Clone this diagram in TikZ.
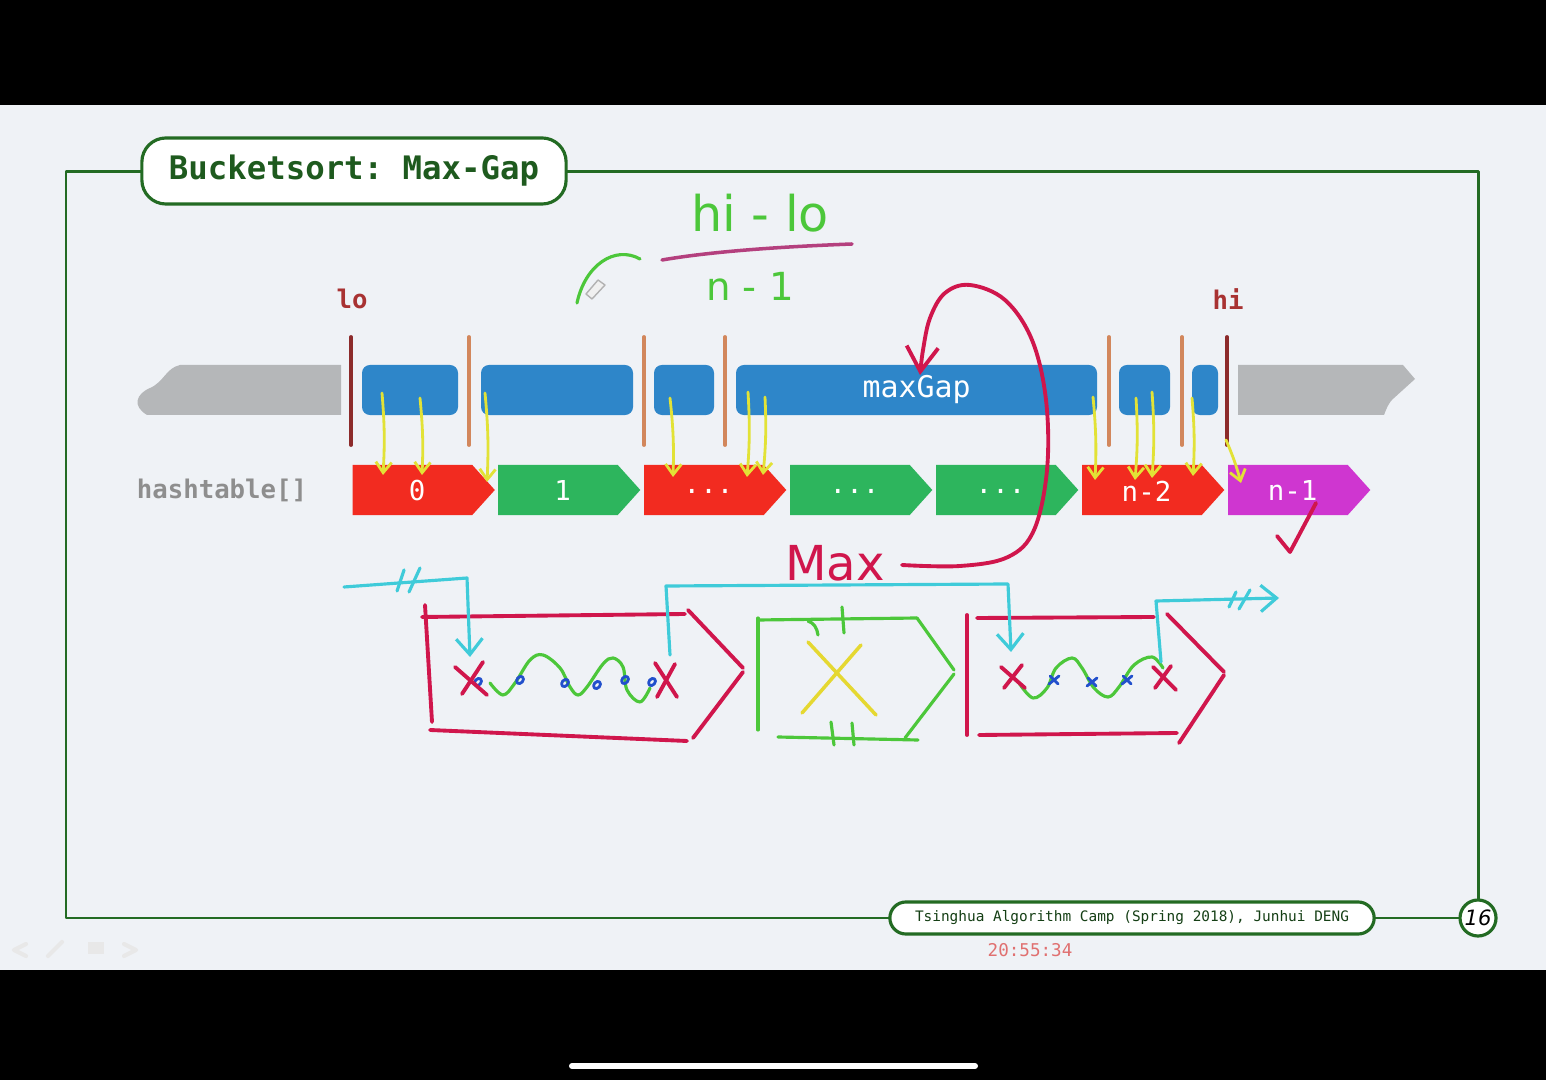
\documentclass[tikz,border=0pt]{standalone}
\usepackage{fontspec}
\setmainfont{DejaVu Sans}
\setmonofont{DejaVu Sans Mono}
\usetikzlibrary{arrows.meta,shapes.symbols,positioning}

\definecolor{slidebg}{HTML}{EFF2F6}
\definecolor{framegreen}{HTML}{236B23}
\definecolor{titlegreen}{HTML}{1E5A1E}
\definecolor{graybar}{HTML}{B5B7B9}
\definecolor{blueblock}{HTML}{2E86C9}
\definecolor{orangeline}{HTML}{D2875C}
\definecolor{loline}{HTML}{8C2B2B}
\definecolor{lotext}{HTML}{A83232}
\definecolor{slotred}{HTML}{F22B20}
\definecolor{slotgreen}{HTML}{2DB55D}
\definecolor{slotmag}{HTML}{CF36D0}
\definecolor{penyellow}{HTML}{E2E236}
\definecolor{pencrim}{HTML}{D0164C}
\definecolor{pencyan}{HTML}{3FCBD9}
\definecolor{pengreen}{HTML}{4CC73A}
\definecolor{penblue}{HTML}{2250CC}
\definecolor{fracpink}{HTML}{B4407E}
\definecolor{hashgray}{HTML}{8E8E8E}
\definecolor{stampred}{HTML}{E07070}

\begin{document}
\begin{tikzpicture}[
    x=0.01cm, y=-0.01cm, %one unit is one pixel of the slide
    line cap=round, line join=round,
    titlebox/.style={rectangle,rounded corners=0.24cm,draw=framegreen,fill=white,
        line width=0.9pt,minimum width=4.24cm,minimum height=0.66cm,inner sep=0pt,
        text=titlegreen,font=\ttfamily\bfseries\fontsize{9.2}{10}\selectfont},
    footbox/.style={rectangle,rounded corners=0.16cm,draw=framegreen,fill=white,
        line width=0.9pt,minimum width=4.84cm,minimum height=0.32cm,inner sep=0pt,
        text=titlegreen!70!black,font=\ttfamily\fontsize{4.1}{5}\selectfont},
    pagecircle/.style={circle,draw=framegreen,fill=white,line width=0.9pt,
        minimum size=0.36cm,inner sep=0pt,font=\itshape\fontsize{6}{7}\selectfont},
    bucket/.style={rectangle,rounded corners=0.08cm,fill=blueblock,
        minimum height=0.5cm,inner sep=0pt},
    slot/.style={signal,signal to=east,signal pointer angle=96,
        minimum width=1.42cm,minimum height=0.5cm,inner sep=0pt},
    slotlbl/.style={text=white,inner sep=0pt,font=\ttfamily\fontsize{7.8}{8}\selectfont},
    bound/.style={text=lotext,font=\ttfamily\bfseries\fontsize{7.3}{8}\selectfont},
    divider/.style={line width=1.1pt,draw=orangeline},
    ypen/.style={draw=penyellow,line width=0.8pt},
    rpen/.style={draw=pencrim,line width=1.1pt},
    cpen/.style={draw=pencyan,line width=0.9pt},
    gpen/.style={draw=pengreen,line width=0.9pt},
    bpen/.style={draw=penblue,line width=0.8pt},
    hand/.style={inner sep=0pt},
    >={Straight Barb[length=3pt,width=4.5pt]},
    ]

    %screen and slide
    \useasboundingbox (0,0) rectangle (1546,1080);
    \fill[black] (0,0) rectangle (1546,1080);
    \fill[slidebg] (0,105) rectangle (1546,970);
    \draw[white,line width=1.7pt] (572,1066) -- (975,1066);

    %frame
    \draw[framegreen,line width=0.85pt] (66,172) rectangle (1478,918);
    \node[titlebox] (title) at (354,171) {Bucketsort: Max-Gap};
    \node[footbox] (foot) at (1132,918) {Tsinghua Algorithm Camp (Spring 2018), Junhui DENG};
    \node[pagecircle] (page) at (1478,918) {16};
    \node[text=stampred,font=\ttfamily\fontsize{5}{6}\selectfont] (stamp) at (1030,950) {20:55:34};

    %faint player icons
    \begin{scope}[black!9,line width=1.2pt]
        \draw (26,944) -- (14,950) -- (26,956);
        \draw (48,956) -- (62,942);
        \fill (88,942) rectangle (104,954);
        \draw (124,944) -- (136,950) -- (124,956);
    \end{scope}

    %sorted line
    \fill[graybar] (341,365) -- (180,365) .. controls (166,368) and (164,382) .. (150,388)
        .. controls (136,394) and (132,406) .. (147,415) -- (341,415) -- cycle;
    \fill[graybar] (1238,365) -- (1403,365) -- (1415,379) -- (1394,398)
        .. controls (1388,403) and (1386,410) .. (1384,415) -- (1238,415) -- cycle;
    \foreach \x/\w [count=\i] in {410/96, 557/152, 684/60, 916.5/361, 1144.5/51, 1205/26}
        \node[bucket,minimum width=\w*0.01cm] (b\i) at (\x,390) {};
    \node[text=white,font=\ttfamily\fontsize{8.5}{9}\selectfont] (gap) at (b4.center) {maxGap};

    %dividers
    \foreach \x in {469,644,725,1109,1182}
        \draw[divider] (\x,337) -- (\x,445);
    \draw[divider,draw=loline] (351,337) -- (351,445);
    \draw[divider,draw=loline] (1227,337) -- (1227,445);
    \node[bound] (lo) at (352,299) {lo};
    \node[bound] (hi) at (1228,299) {hi};

    %hashtable
    \node[text=hashgray,font=\ttfamily\bfseries\fontsize{7.3}{8}\selectfont] (table) at (222,490) {hashtable[]};
    \foreach \x/\c/\t [count=\i from 0] in {424/slotred/0, 569.5/slotgreen/1, 715.5/slotred/{...},
            861.5/slotgreen/{...}, 1007.5/slotgreen/{...}, 1153.5/slotred/{n-2}, 1299.5/slotmag/{n-1}} {
        \node[slot,fill=\c] (h\i) at (\x-11.5,490) {};
        \node[slotlbl] (t\i) at (\x-7,491) {\t};
    }

    %yellow pen: items into buckets
    \foreach \sx/\sy/\ex/\ey in {382/393/383/475, 420/398/422/475, 485/393/487/482,
            670/398/673/477, 748/392/747/477, 765/397/763/475, 1093/397/1095/480,
            1136/398/1135/480, 1152/392/1152/478, 1192/398/1193/476, 1226/440/1241/483}
        \draw[ypen,->] (\sx,\sy) to[bend left=4] (\ex,\ey);

    %green pen: width of a bucket
    \node[hand,text=pengreen,font=\fontsize{14}{15}\selectfont] (num) at (760,213) {hi - lo};
    \node[hand,text=pengreen,font=\fontsize{11}{12}\selectfont] (den) at (750,286) {n - 1};
    \draw[fracpink,line width=1pt] (662,260) .. controls (720,250) and (800,246) .. (852,244);
    \draw[gpen] (640,259) .. controls (615,245) and (585,265) .. (577,303);
    \draw[gray!60,fill=gray!12,line width=0.4pt] (586,294) -- (598,280) -- (605,285) -- (592,299) -- cycle;

    %red pen: max gap
    \node[hand,text=pencrim,font=\fontsize{13.7}{14}\selectfont] (max) at (835,563) {Max};
    \draw[rpen,-{Straight Barb[length=7pt,width=9pt]}] plot[smooth,tension=0.6] coordinates {
        (902,565) (960,566) (1008,557) (1034,530) (1047,470) (1046,400) (1032,340)
        (1005,300) (970,285) (945,293) (930,318) (923,350) (920,375)};
    \draw[rpen] (1277,536) -- (1290,552) -- (1316,503);

    %bucket with items
    \draw[rpen] (425,605) -- (432,722);
    \draw[rpen] (422,617) -- (685,614);
    \draw[rpen] (688,610) -- (743,668);
    \draw[rpen] (743,672) -- (693,738);
    \draw[rpen] (430,730) -- (687,741);
    \draw[gpen] plot[smooth,tension=0.6] coordinates {(490,683) (503,695) (515,683) (530,660)
        (543,655) (560,668) (570,687) (578,695) (587,687) (603,664) (613,658) (623,667)
        (627,690) (640,702) (650,688)};
    \foreach \x/\y in {478/682, 520/680, 565/683, 597/685, 625/680, 652/682}
        \draw[bpen,rotate around={50:(\x,\y)}] (\x,\y) ellipse [x radius=4, y radius=3];
    \draw[rpen] (455,667) -- (487,695);
    \draw[rpen] (483,662) -- (462,694);
    \draw[rpen] (655,663) -- (677,697);
    \draw[rpen] (675,664) -- (657,697);

    %empty bucket
    \draw[gpen] (758,618) -- (758,730);
    \draw[gpen] (758,620) -- (917,618);
    \draw[gpen] (917,618) -- (954,670);
    \draw[gpen] (954,674) -- (905,738);
    \draw[gpen] (778,737) -- (918,740);
    \draw[gpen] (808,621) .. controls (814,623) and (817,628) .. (818,635);
    \draw[gpen] (842,607) -- (844,633);
    \draw[gpen] (831,722) -- (834,745);
    \draw[gpen] (852,723) -- (854,745);
    \draw[draw=penyellow!90!orange,line width=1pt] (808,642) -- (876,715);
    \draw[draw=penyellow!90!orange,line width=1pt] (861,645) -- (802,713);

    %next bucket with items
    \draw[rpen] (967,615) -- (967,735);
    \draw[rpen] (977,618) -- (1154,617);
    \draw[rpen] (1167,614) -- (1224,672);
    \draw[rpen] (1224,675) -- (1179,743);
    \draw[rpen] (979,735) -- (1177,733);
    \draw[gpen] plot[smooth,tension=0.6] coordinates {(1019,683) (1033,698) (1047,688)
        (1056,668) (1072,658) (1082,668) (1094,688) (1108,697) (1119,687) (1134,665)
        (1152,657) (1163,668)};
    \foreach \x/\y in {1054/680, 1092/682, 1127/680} {
        \draw[bpen] (\x-5,\y+4) -- (\x+5,\y-4);
        \draw[bpen] (\x-4,\y-4) -- (\x+4,\y+4);
    }
    \draw[rpen] (1001,667) -- (1025,688);
    \draw[rpen] (1022,665) -- (1004,688);
    \draw[rpen] (1153,667) -- (1176,690);
    \draw[rpen] (1171,666) -- (1155,688);

    %cyan pen: links between neighbours
    \draw[cpen,-{Straight Barb[length=4.5pt,width=7.5pt]}] (344,587) -- (467,578) -- (470,657);
    \draw[cpen] (397,591) -- (404,570);
    \draw[cpen] (409,592) -- (420,568);
    \draw[cpen,-{Straight Barb[length=4.5pt,width=7.5pt]}] (670,655) -- (666,586) -- (1008,584) -- (1011,652);
    \draw[cpen,-{Straight Barb[length=4.5pt,width=7.5pt]}] (1161,662) -- (1156,601) -- (1279,598);
    \draw[cpen] (1229,607) -- (1236,592);
    \draw[cpen] (1239,609) -- (1250,590);

\end{tikzpicture}
\end{document}
